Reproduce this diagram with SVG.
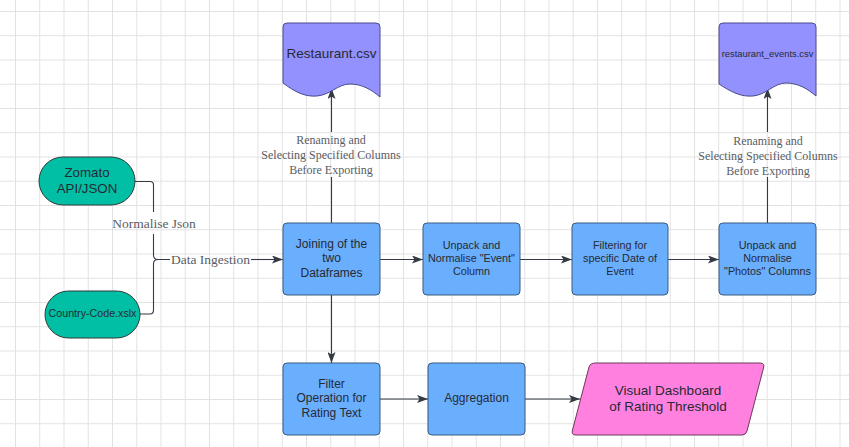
<svg xmlns="http://www.w3.org/2000/svg" width="849" height="447" viewBox="0 0 849 447">
<defs>
<pattern id="grid" patternUnits="userSpaceOnUse" x="15" y="11" width="24.25" height="24.25">
<path d="M0.5,0 V24.25 M0,0.5 H24.25" fill="none" stroke="#e2e2e2" stroke-width="1"/>
</pattern>
<marker id="arr" markerUnits="userSpaceOnUse" viewBox="0 0 11 8" refX="11" refY="4" markerWidth="11" markerHeight="8" orient="auto">
<path d="M0,0 L11,4 L0,8 L2.5,4 Z" fill="#333a44"/>
</marker>
<style>
.n{font-family:"Liberation Sans",Arial,sans-serif;fill:#262a33;text-anchor:middle}
.l{font-family:"Liberation Serif","Times New Roman",serif;fill:#5a5d63;text-anchor:middle}
.c{fill:none;stroke:#333a44;stroke-width:1.1}
.blue{fill:#6aaefe;stroke:#3b5a80;stroke-width:1}
.teal{fill:#00bfa5;stroke:#2f3b3a;stroke-width:1}
.doc{fill:#9391fe;stroke:#4a4a8a;stroke-width:1}
.pink{fill:#ff80df;stroke:#6a3a5a;stroke-width:1}
</style>
</defs>
<rect width="849" height="447" fill="#ffffff"/>
<rect width="849" height="447" fill="url(#grid)"/>

<g id="connectors">
<path class="c" d="M135,181.5 H150 Q153.5,181.5 153.5,185 V212"/>
<path class="c" d="M153.5,234 V255 Q153.5,259.5 158,259.5 H170"/>
<path class="c" d="M140,314 H150 Q153.5,314 153.5,310 V264 Q153.5,259.5 158,259.5"/>
<path class="c" d="M251,259.5 H283" marker-end="url(#arr)"/>
<path class="c" d="M331.5,223 V177"/>
<path class="c" d="M331.5,132 V88" marker-end="url(#arr)"/>
<path class="c" d="M767.5,223 V177"/>
<path class="c" d="M767.5,132 V88" marker-end="url(#arr)"/>
<path class="c" d="M380,259.5 H423" marker-end="url(#arr)"/>
<path class="c" d="M520,259.5 H572" marker-end="url(#arr)"/>
<path class="c" d="M668,259.5 H719" marker-end="url(#arr)"/>
<path class="c" d="M331.5,295 V363" marker-end="url(#arr)"/>
<path class="c" d="M380,399 H428" marker-end="url(#arr)"/>
<path class="c" d="M525,399 H580" marker-end="url(#arr)"/>
<text class="l" x="154" y="227.5" font-size="13.5">Normalise Json</text>
<text class="l" x="210.5" y="264" font-size="13.5">Data Ingestion</text>
<text class="l" x="331" y="144" font-size="12">Renaming and</text>
<text class="l" x="331" y="159" font-size="12">Selecting Specified Columns</text>
<text class="l" x="331" y="173.5" font-size="12">Before Exporting</text>
<text class="l" x="768" y="145" font-size="12">Renaming and</text>
<text class="l" x="768" y="160" font-size="12">Selecting Specified Columns</text>
<text class="l" x="768" y="174.5" font-size="12">Before Exporting</text>
</g>

<g id="zomato">
<rect class="teal" x="39" y="157" width="96" height="48" rx="24"/>
<text class="n" x="87" y="177" font-size="13.3">Zomato</text>
<text class="n" x="87" y="193" font-size="13.3">API/JSON</text>
</g>

<g id="country-code">
<rect class="teal" x="45" y="291" width="95" height="47" rx="23.5"/>
<text class="n" x="92.5" y="317" font-size="10.7">Country-Code.xslx</text>
</g>

<g id="restaurant-csv">
<path class="doc" d="M287,23 H376 Q380,23 380,27 V97 C372,90 362,84 350,84 C338,84 330,95 317,96 C305,97 295,92 283,83 V27 Q283,23 287,23 Z"/>
<text class="n" x="331.5" y="58" font-size="13.5">Restaurant.csv</text>
</g>

<g id="restaurant-events-csv">
<path class="doc" d="M723,23 H812 Q816,23 816,27 V96 C808,89 798,83 786,83 C774,83 766,95 753,96 C741,97 731,92 719,84 V27 Q719,23 723,23 Z"/>
<text class="n" x="767.5" y="56.5" font-size="9.4">restaurant_events.csv</text>
</g>

<g id="joining">
<rect class="blue" x="283" y="223" width="97" height="72" rx="4"/>
<text class="n" x="331.5" y="247.5" font-size="12">Joining of the</text>
<text class="n" x="331.5" y="262" font-size="12">two</text>
<text class="n" x="331.5" y="276.5" font-size="12">Dataframes</text>
</g>

<g id="unpack-event">
<rect class="blue" x="423" y="223" width="97" height="72" rx="4"/>
<text class="n" x="471.5" y="249" font-size="10.8">Unpack and</text>
<text class="n" x="471.5" y="262" font-size="10.8">Normalise "Event"</text>
<text class="n" x="471.5" y="275" font-size="10.8">Column</text>
</g>

<g id="filtering">
<rect class="blue" x="572" y="223" width="96" height="72" rx="4"/>
<text class="n" x="620" y="249" font-size="10.8">Filtering for</text>
<text class="n" x="620" y="262" font-size="10.8">specific Date of</text>
<text class="n" x="620" y="275" font-size="10.8">Event</text>
</g>

<g id="unpack-photos">
<rect class="blue" x="719" y="223" width="97" height="72" rx="4"/>
<text class="n" x="767.5" y="249" font-size="10.8">Unpack and</text>
<text class="n" x="767.5" y="262" font-size="10.8">Normalise</text>
<text class="n" x="767.5" y="275" font-size="10.8">"Photos" Columns</text>
</g>

<g id="filter-operation">
<rect class="blue" x="283" y="363" width="97" height="72" rx="4"/>
<text class="n" x="331.5" y="387.5" font-size="12">Filter</text>
<text class="n" x="331.5" y="402" font-size="12">Operation for</text>
<text class="n" x="331.5" y="416.5" font-size="12">Rating Text</text>
</g>

<g id="aggregation">
<rect class="blue" x="428" y="363" width="97" height="72" rx="4"/>
<text class="n" x="476.5" y="402" font-size="12">Aggregation</text>
</g>

<g id="visual-dashboard">
<path class="pink" d="M596,363 H760 Q765,363 763.5,368 L747,431 Q746,435 742,435 H576 Q571,435 572.5,430 L589,367 Q590,363 596,363 Z"/>
<text class="n" x="668" y="395" font-size="13.5">Visual Dashboard</text>
<text class="n" x="668" y="411" font-size="13.5">of Rating Threshold</text>
</g>
</svg>
